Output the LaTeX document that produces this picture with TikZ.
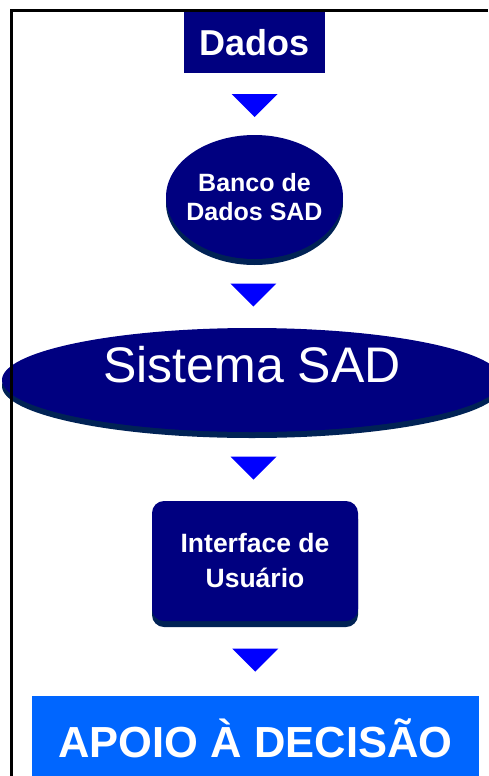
\documentclass[tikz,border=0pt]{standalone}
\usepackage{fontspec}
\setmainfont{Liberation Sans}
\usetikzlibrary{shapes.geometric,shadows,calc}
\definecolor{marinho}{RGB}{0,0,128}
\definecolor{sombra}{RGB}{0,34,85}
\definecolor{azul}{RGB}{0,0,255}
\definecolor{apoio}{RGB}{0,102,255}

\begin{document}
\begin{tikzpicture}[x=1pt,y=-1pt,
    bloco/.style={fill=marinho,text=white,inner sep=0pt,align=center},
    sombreado/.style={general shadow={fill=sombra,shadow yshift=-6pt}},
    seta/.style={fill=azul}]
  \useasboundingbox (0,0) rectangle (488,776);
  \node[bloco,minimum width=141pt,minimum height=61pt,font=\bfseries\fontsize{36}{40}\selectfont] (dados) at (254.5,42.5) {Dados};
  \node[bloco,sombreado,ellipse,inner xsep=-10pt,minimum width=177pt,minimum height=124pt,font=\bfseries\fontsize{25}{29}\selectfont] (banco) at (254.5,197) {Banco de\\Dados SAD};
  \node[bloco,sombreado,ellipse,minimum width=500pt,minimum height=104pt,text height=36pt,text depth=32pt,font=\fontsize{50}{60}\selectfont] (sistema) at (252,380) {Sistema SAD};
  \node[bloco,sombreado,rounded corners=12pt,minimum width=206pt,minimum height=120pt,font=\bfseries\fontsize{26.5}{35}\selectfont] (interface) at (255,561) {Interface de\\Usuário};
  \node[bloco,fill=apoio,minimum width=447pt,minimum height=90pt,text height=32pt,text depth=0pt,font=\bfseries\fontsize{43.5}{50}\selectfont] (apoio) at (255.5,741) {APOIO À DECISÃO};
  \foreach \a/\b in {dados/banco,banco/sistema,sistema/interface,interface/apoio}
    \fill[seta] ($(\a.south)!0.5!(\b.north)+(-23,-10)$) -- ++(46,0) -- ++(-23,23) -- cycle;
  \draw[line width=3.5pt] (11.5,776) -- (11.5,10.5) -- (488,10.5);
\end{tikzpicture}
\end{document}
